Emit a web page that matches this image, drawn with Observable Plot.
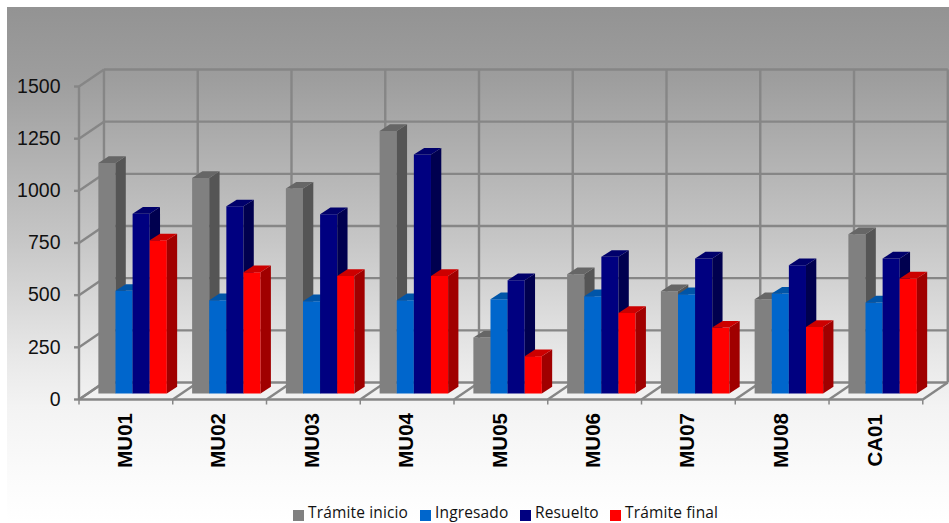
<!DOCTYPE html>
<html><head><meta charset="utf-8">
<script src="https://cdn.jsdelivr.net/npm/d3@7"></script>
<script src="https://cdn.jsdelivr.net/npm/@observablehq/plot@0.6"></script>
<style>
html,body{margin:0;padding:0;background:#fff;overflow:hidden}
#wrap{position:relative;width:949px;height:523px;overflow:hidden}
#bg{position:absolute;left:7px;top:7px;right:0;bottom:0;background:linear-gradient(to bottom,#939393 0px,#9d9d9d 70px,#c6c6c6 233px,#e8e8e8 350px,#f3f3f3 400px,#fbfbfb 470px,#ffffff 516px)}
#chart{position:absolute;left:0;top:0}
.lg{position:absolute;top:501.5px;height:21px;font:15.5px/21px "Open Sans",sans-serif;letter-spacing:.15px;color:#111;white-space:nowrap}
.sw{position:absolute;top:510px;width:11px;height:11px}
</style></head><body>
<div id="wrap"><div id="bg"></div><div id="chart"></div></div>
<script>
const categories = ["MU01","MU02","MU03","MU04","MU05","MU06","MU07","MU08","CA01"];
const series = ["Trámite inicio","Ingresado","Resuelto","Trámite final"];
const tramiteInicio = [1105,1033,982,1258,268,572,490,452,763];
const ingresado     = [492,447,442,447,452,466,476,479,436];
const resuelto      = [862,897,859,1145,543,655,647,615,647];
const tramiteFinal  = [734,581,563,563,179,386,316,319,551];
const seriesValues = [tramiteInicio,ingresado,resuelto,tramiteFinal];
const yTicks = [0,250,500,750,1000,1250,1500];
const frontColors = ["#808080","#0066cc","#000080","#ff0000"];
const sideColors  = ["#555555","#003f7f","#00004f","#a00000"];
const topColors   = ["#666666","#0055a8","#00006b","#cc0000"];
const gridColor = "#868686";

// 3-D projection expressed in scale units
const wallDx = 0.2665, wallDy = 81.5;
const barDx = 0.11, barDy = 32;
const barStart = 0.2065, barW = 0.1826, barBase = 28.7;
const n = categories.length;

const polys = [];
categories.forEach((c,i)=>{
  seriesValues.forEach((vals,s)=>{
    const v = vals[i] + barBase, b = barBase;
    const x0 = i + barStart + s*barW, x1 = x0 + barW;
    const add = (name,fill,pts)=>pts.forEach(([x,y])=>polys.push({id:`${c}-${s}-${name}`,fill,x,y}));
    add("front",frontColors[s],[[x0,b],[x1,b],[x1,v],[x0,v]]);
    add("side",sideColors[s],[[x1,b],[x1+barDx,b+barDy],[x1+barDx,v+barDy],[x1,v]]);
    add("top",topColors[s],[[x0,v],[x1,v],[x1+barDx,v+barDy],[x0+barDx,v+barDy]]);
  });
});
const floor = [[0,0],[n,0],[n+wallDx,wallDy],[wallDx,wallDy]].map(([x,y])=>({x,y}));
const bounds = d3.range(n+1);
const gw = 2.4;

const plot = Plot.plot({
  width:949,height:523,
  marginLeft:78.5,marginTop:86,marginBottom:124,marginRight:0,
  style:{background:"transparent"},
  x:{domain:[0,9.285],axis:null},
  y:{domain:[0,1500],axis:null,label:null},
  color:{type:"identity"},
  marks:[
    Plot.line(floor,{x:"x",y:"y",fill:"#f1f1f1",stroke:"none"}),
    // back wall and side wall grid
    Plot.link(yTicks,{x1:wallDx,x2:n+wallDx,y1:d=>d+wallDy,y2:d=>d+wallDy,stroke:gridColor,strokeWidth:gw}),
    Plot.link(bounds,{x1:d=>d+wallDx,x2:d=>d+wallDx,y1:wallDy,y2:1500+wallDy,stroke:gridColor,strokeWidth:gw}),
    Plot.link(yTicks,{x1:0,x2:wallDx,y1:d=>d,y2:d=>d+wallDy,stroke:gridColor,strokeWidth:gw}),
    Plot.link([0],{x1:0,x2:0,y1:0,y2:1500,stroke:gridColor,strokeWidth:gw}),
    // floor
    Plot.link(bounds,{x1:d=>d,x2:d=>d+wallDx,y1:0,y2:wallDy,stroke:gridColor,strokeWidth:gw}),
    Plot.link([0],{x1:0,x2:n,y1:0,y2:0,stroke:gridColor,strokeWidth:gw}),
    // tick marks
    Plot.link(yTicks,{x1:-0.053,x2:0,y1:d=>d,y2:d=>d,stroke:gridColor,strokeWidth:gw}),
    Plot.link(bounds,{x1:d=>d,x2:d=>d,y1:0,y2:-24,stroke:gridColor,strokeWidth:1.5}),
    // bars
    Plot.line(polys,{x:"x",y:"y",z:"id",fill:"fill",stroke:"none"}),
    // labels
    Plot.axisY(yTicks,{anchor:"left",label:null,tickSize:0,tickPadding:18.5,fontSize:19.5,fontFamily:"Liberation Sans",color:"#111",tickFormat:d=>String(d)}),
    Plot.text(categories,{x:(d,i)=>i+0.49,y:-196,text:d=>d,rotate:-90,fontSize:20.5,fontWeight:"bold",fontFamily:"Liberation Sans",fill:"#000"})
  ]
});
document.getElementById("chart").append(plot);

const wrap = document.getElementById("wrap");
const swatchX = [293,420,520,610];
series.forEach((s,i)=>{
  const sw = document.createElement("div");
  sw.className="sw"; sw.style.left=swatchX[i]+"px"; sw.style.background=frontColors[i];
  wrap.append(sw);
  const t = document.createElement("div");
  t.className="lg"; t.style.left=(swatchX[i]+15)+"px"; t.textContent=s;
  wrap.append(t);
});
</script>
</body></html>
